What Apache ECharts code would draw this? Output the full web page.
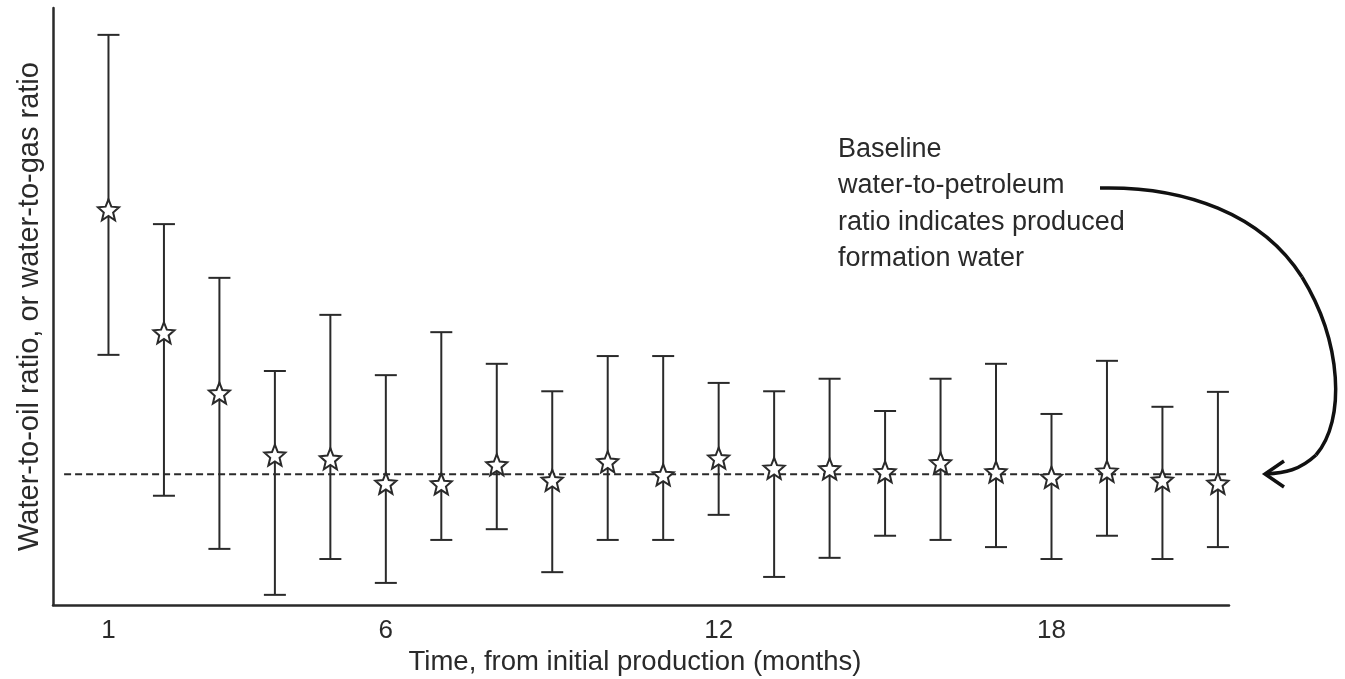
<!DOCTYPE html>
<html>
<head>
<meta charset="utf-8">
<script src="https://cdn.jsdelivr.net/npm/echarts@6/dist/echarts.min.js"></script>
<style>
html,body{margin:0;padding:0;background:#fff;}
#chart{width:1345px;height:679px;}
</style>
</head>
<body>
<div id="chart"></div>
<script>
// Data (arbitrary relative units, 0–100 on the unlabeled y axis)
const months = [1,2,3,4,5,6,7,8,9,10,11,12,13,14,15,16,17,18,19,20,21];
const means  = [66.2,45.6,35.5,25.1,24.5,20.4,20.3,23.5,20.9,24.0,21.8,24.6,22.9,22.8,22.3,23.8,22.3,21.4,22.4,20.9,20.4];
const highs  = [95.5,63.8,54.8,39.2,48.6,38.5,45.7,40.4,35.8,41.7,41.7,37.2,35.8,37.9,32.5,37.9,40.4,32.0,40.9,33.2,35.7];
const lows   = [41.9,18.3,9.4,1.7,7.7,3.7,10.9,12.7,5.5,10.9,10.9,15.1,4.7,7.9,11.6,10.9,9.7,7.7,11.6,7.7,9.7];
const baseline = 21.9;
const baselineRange = [0.2, 21.75];
const xTicks = [1, 6, 12, 18];
const xAxisTitle = 'Time, from initial production (months)';
const yAxisTitle = 'Water-to-oil ratio, or water-to-gas ratio';
const annotation = ['Baseline', 'water-to-petroleum', 'ratio indicates produced', 'formation water'];

const FONT = '"Liberation Sans", Arial, sans-serif';
const INK = '#2a2a2a';
const STAR = 'path://M12,1.5 L14.9,8.6 L22.6,9.2 L16.7,14.2 L18.6,21.7 L12,17.6 L5.4,21.7 L7.3,14.2 L1.4,9.2 L9.1,8.6 Z';

const errData = months.map((m, i) => [m, lows[i], highs[i]]);
const meanData = months.map((m, i) => [m, means[i]]);

const arrowStyle = {stroke: '#111', lineWidth: 3.5, fill: null};

const chart = echarts.init(document.getElementById('chart'), null, {renderer: 'canvas'});
chart.setOption({
  animation: false,
  backgroundColor: '#ffffff',
  grid: {left: 53, right: 116, top: 8, bottom: 74, containLabel: false, outerBoundsMode: 'none'},
  xAxis: {
    type: 'value', min: 0, max: 21.2,
    name: xAxisTitle, nameLocation: 'middle', nameGap: 36,
    nameTextStyle: {fontFamily: FONT, fontSize: 27.5, color: INK, padding: [0, 12, 0, 0]},
    axisLine: {show: true, lineStyle: {color: INK, width: 2.5}},
    axisTick: {show: false},
    splitLine: {show: false},
    axisLabel: {customValues: xTicks, fontFamily: FONT, fontSize: 26, color: INK, margin: 13}
  },
  yAxis: {
    type: 'value', min: 0, max: 100,
    name: yAxisTitle, nameLocation: 'middle', nameGap: 9,
    nameTextStyle: {fontFamily: FONT, fontSize: 29, color: INK},
    axisLine: {show: true, lineStyle: {color: INK, width: 2.5}},
    axisTick: {show: false},
    axisLabel: {show: false},
    splitLine: {show: false}
  },
  series: [
    {
      type: 'line', clip: false, silent: true, symbol: 'none',
      data: [[baselineRange[0], baseline], [baselineRange[1], baseline]],
      lineStyle: {color: INK, width: 2, type: [7, 4]},
      z: 1
    },
    {
      type: 'custom', silent: true, z: 2,
      data: errData,
      renderItem: function (params, api) {
        const x = api.value(0);
        const lo = api.coord([x, api.value(1)]);
        const hi = api.coord([x, api.value(2)]);
        const hw = 11;
        const st = {stroke: INK, lineWidth: 2};
        return {type: 'group', children: [
          {type: 'line', shape: {x1: lo[0], y1: lo[1], x2: hi[0], y2: hi[1]}, style: st},
          {type: 'line', shape: {x1: hi[0]-hw, y1: hi[1], x2: hi[0]+hw, y2: hi[1]}, style: st},
          {type: 'line', shape: {x1: lo[0]-hw, y1: lo[1], x2: lo[0]+hw, y2: lo[1]}, style: st}
        ]};
      }
    },
    {
      type: 'scatter', silent: true, z: 3,
      data: meanData,
      symbol: STAR, symbolSize: 21,
      itemStyle: {color: '#ffffff', borderColor: INK, borderWidth: 2, opacity: 1}
    }
  ],
  graphic: [
    {
      type: 'text', x: 838, y: 131, silent: true,
      style: {text: annotation.join('\n'), font: '27px ' + FONT, lineHeight: 36.5, fill: INK}
    },
    {
      type: 'bezierCurve', silent: true,
      shape: {x1: 1100, y1: 188, cpx1: 1185, cpy1: 186, cpx2: 1262, cpy2: 214, x2: 1302, y2: 277},
      style: arrowStyle
    },
    {
      type: 'bezierCurve', silent: true,
      shape: {x1: 1302, y1: 277, cpx1: 1342, cpy1: 342, cpx2: 1346, cpy2: 420, x2: 1316, y2: 455},
      style: arrowStyle
    },
    {
      type: 'bezierCurve', silent: true,
      shape: {x1: 1316, y1: 455, cpx1: 1300, cpy1: 470, cpx2: 1285, cpy2: 473, x2: 1266, y2: 474},
      style: arrowStyle
    },
    {
      type: 'polyline', silent: true,
      shape: {points: [[1284, 461], [1265, 474], [1284, 487]]},
      style: {stroke: '#111', lineWidth: 3.5, fill: null}
    }
  ]
});
</script>
</body>
</html>
